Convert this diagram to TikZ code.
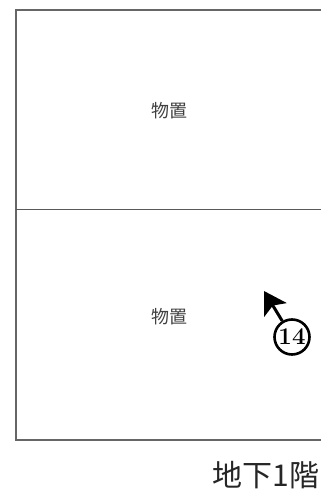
\documentclass[tikz,border=0pt]{standalone}
\usepackage{fontspec}
\newfontfamily\cjk{Noto Sans CJK JP}
\usetikzlibrary{arrows.meta}
\begin{document}
\begin{tikzpicture}[x=1pt, y=1pt, >={Stealth[inset=5pt, length=22pt, width=26pt]}]
\useasboundingbox (0,0) rectangle (321,493);
\tikzset{wall/.style={draw=black!60, line width=1.1pt}, room/.style={font=\cjk\fontsize{18}{18}\selectfont, text=black!75, inner sep=0pt}}
\draw[wall](321,483)--(16,483)--(16,53)--(321,53);
\draw[draw=black!65, line width=.9pt](16,284)--(321,284);
\node[room] (upper) at (169,382){物置};
\node[room] (lower) at (169,176){物置};
\node[draw, circle, line width=2.6pt, minimum size=35pt, inner sep=0pt, font=\bfseries\fontsize{24}{24}\selectfont] (mark) at (292,156){14};
\coordinate (tip) at (264,202);
\draw[->, line width=3pt](mark)--(tip);
\node[font=\cjk\fontsize{30}{30}\selectfont, text=black!85, inner sep=0pt] (floor) at (266,18){地下1階};
\end{tikzpicture}
\end{document}
